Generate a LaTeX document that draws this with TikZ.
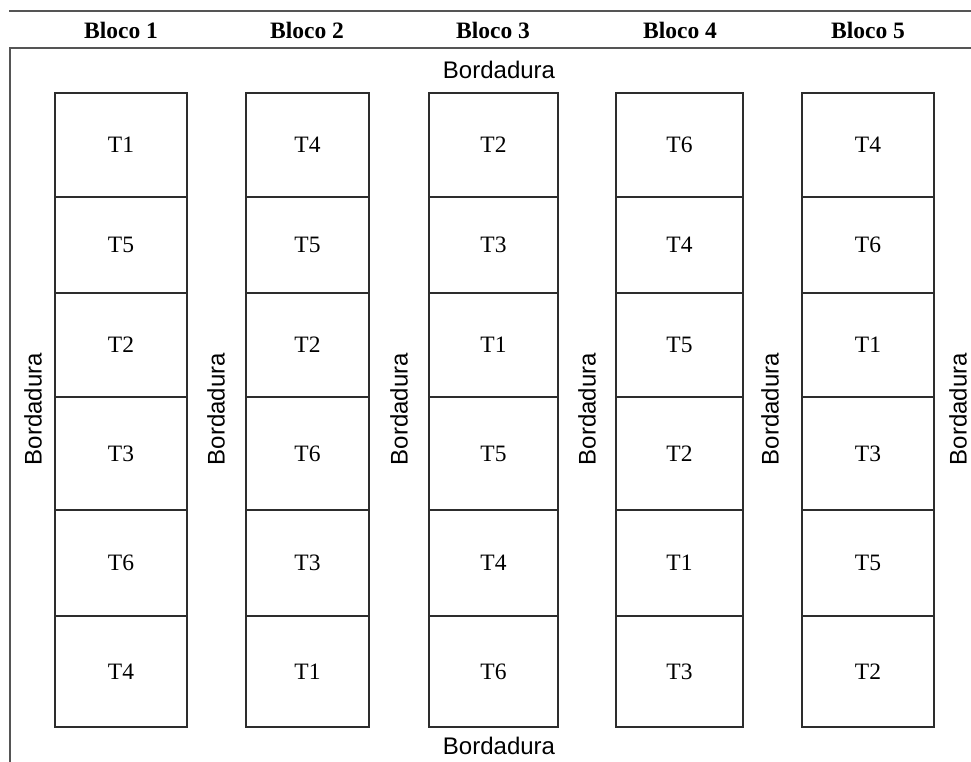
\documentclass[tikz,border=0pt]{standalone}
\usepackage{fontspec}
\setmainfont{Liberation Serif}
\setsansfont{Liberation Sans}
\definecolor{dbcline}{RGB}{45,45,45}
\definecolor{dbcrule}{RGB}{85,85,85}
\tikzset{
  parc/.style={rectangle, draw=dbcline, line width=1.3pt, inner sep=0pt, outer sep=0pt,
               font=\fontsize{23.5}{26}\selectfont},
  bord/.style={font=\sffamily\fontsize{24}{27}\selectfont, inner sep=0pt},
  head/.style={font=\bfseries\fontsize{23.5}{26}\selectfont, inner sep=0pt},
  frm/.style={line width=1.8pt, dbcrule},
}
\begin{document}
\begin{tikzpicture}[x=1pt,y=-1pt]
        \useasboundingbox (0,0) rectangle (971,762);
        % cabecalho e moldura
        \draw[frm] (9,11) -- (971,11);
        \draw[frm] (10,762) -- (10,48) -- (971,48);
        \node[head] (h1) at (121,30) {Bloco 1};
        \node[head] (h2) at (307,30) {Bloco 2};
        \node[head] (h3) at (493,30) {Bloco 3};
        \node[head] (h4) at (680,30) {Bloco 4};
        \node[head] (h5) at (868,30) {Bloco 5};

        % parcelas de cada bloco
        \foreach \c/\x/\w/\ta/\tb/\tc/\td/\te/\tf in {
            1/121/132/T1/T5/T2/T3/T6/T4,
            2/307.5/123/T4/T5/T2/T6/T3/T1,
            3/493.5/129/T2/T3/T1/T5/T4/T6,
            4/679.5/127/T6/T4/T5/T2/T1/T3,
            5/868/132/T4/T6/T1/T3/T5/T2}{
          \foreach \r/\y/\h/\t in {1/145/104/\ta, 2/245/96/\tb, 3/345/104/\tc,
                                 4/453.5/113/\td, 5/563/106/\te, 6/671.5/111/\tf}
            \node[parc, minimum width=\w, minimum height=\h] (c\c-\r) at (\x,\y) {\t};
        }

        % bordaduras
        \node[bord] (btop) at (499,70) {Bordadura};
        \node[bord] (bbot) at (499,746) {Bordadura};
        \node[bord, rotate=90] (bv1) at (33,409) {Bordadura};
        \node[bord, rotate=90] (bv2) at (216,409) {Bordadura};
        \node[bord, rotate=90] (bv3) at (399,409) {Bordadura};
        \node[bord, rotate=90] (bv4) at (587,409) {Bordadura};
        \node[bord, rotate=90] (bv5) at (770,409) {Bordadura};
        \node[bord, rotate=90] (bv6) at (958,409) {Bordadura};
    \end{tikzpicture}
\end{document}
